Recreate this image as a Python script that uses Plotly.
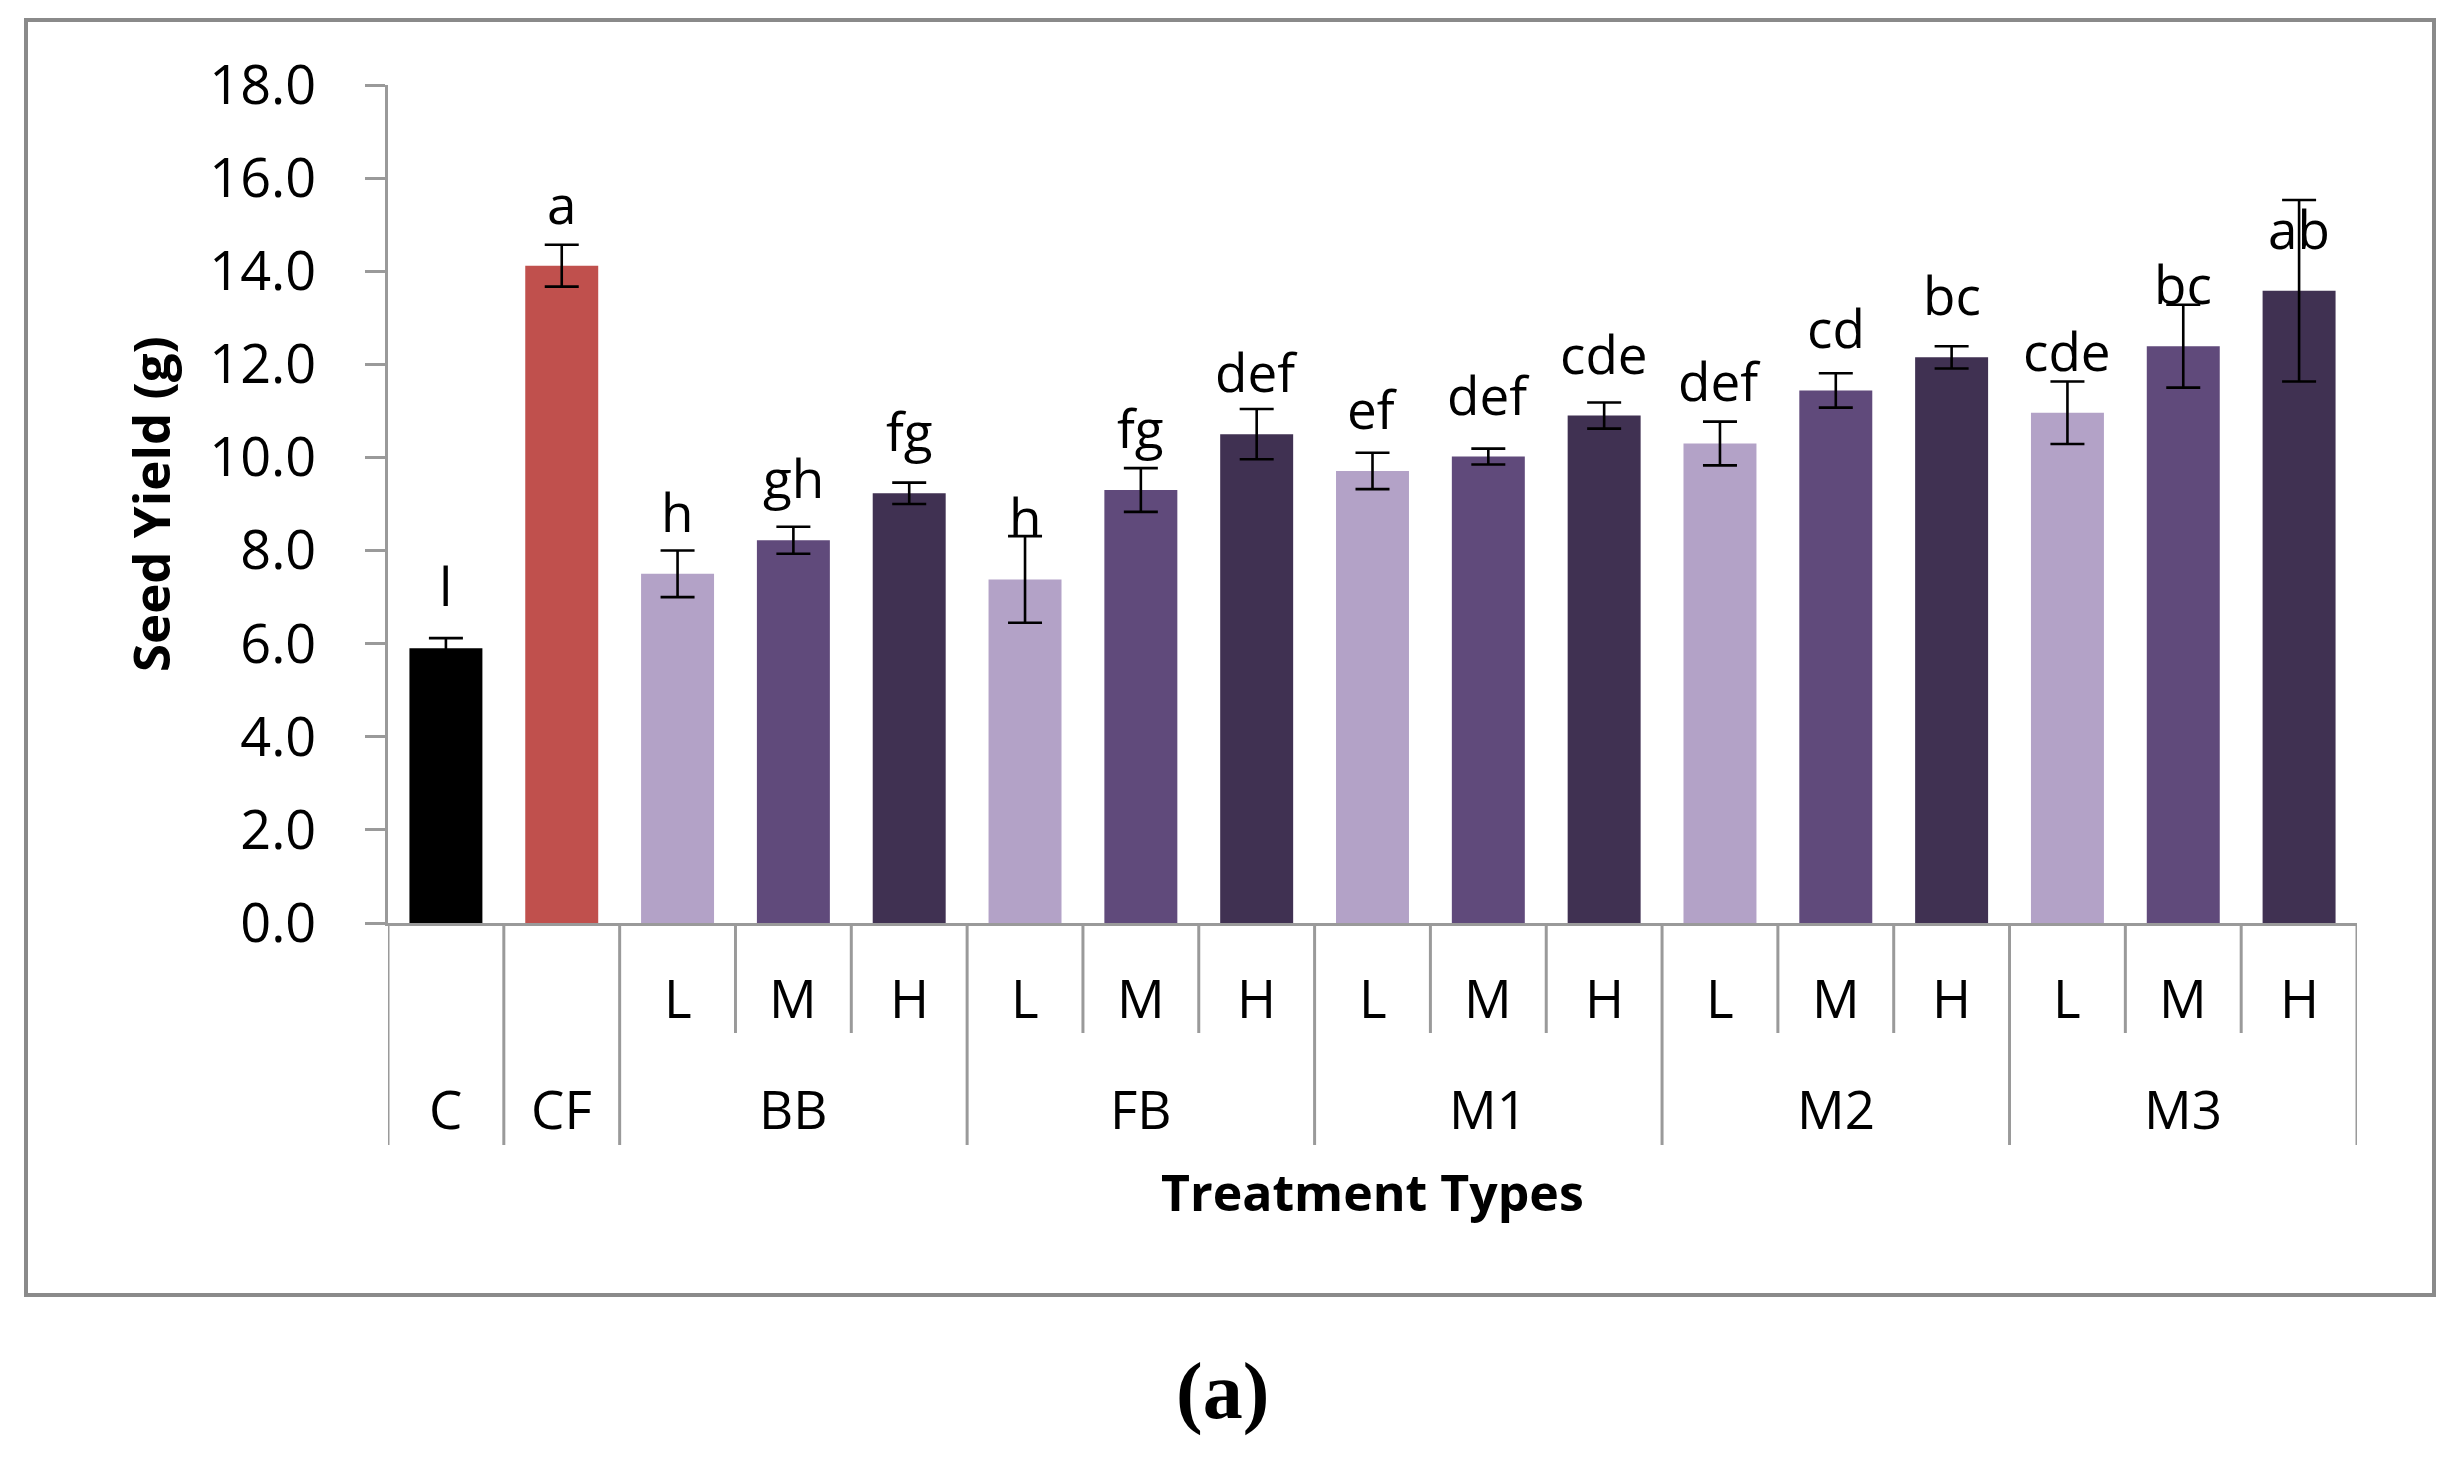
import plotly.graph_objects as go

# ---- data ----
groups = ["C", "CF", "BB", "BB", "BB", "FB", "FB", "FB", "M1", "M1", "M1",
          "M2", "M2", "M2", "M3", "M3", "M3"]
levels = ["", "", "L", "M", "H", "L", "M", "H", "L", "M", "H",
          "L", "M", "H", "L", "M", "H"]
values = [5.90, 14.12, 7.50, 8.22, 9.23, 7.38, 9.30, 10.50, 9.71, 10.02, 10.90,
          10.30, 11.44, 12.15, 10.96, 12.39, 13.58]
errors = [0.22, 0.45, 0.50, 0.29, 0.23, 0.93, 0.47, 0.54, 0.39, 0.17, 0.28,
          0.47, 0.37, 0.24, 0.67, 0.89, 1.95]
letters = ["l", "a", "h", "gh", "fg", "h", "fg", "def", "ef", "def", "cde",
           "def", "cd", "bc", "cde", "bc", "ab"]
y_ticks = [0, 2, 4, 6, 8, 10, 12, 14, 16, 18]

# ---- styling ----
W, H = 2453, 1458
ML, MR, MT, MB = 388, 96, 85, 535
PH = H - MT - MB
PW = W - ML - MR
FONT = "Open Sans, Liberation Sans, Arial, sans-serif"
LINE = "#9a9a9a"
level_colors = {"L": "#B3A2C7", "M": "#604A7B", "H": "#403152"}
special_colors = {"C": "#000000", "CF": "#C0504D"}


def py(ypix):
    """pixel row -> paper y"""
    return (MT + PH - ypix) / PH


def px(xpix):
    return (xpix - ML) / PW


keys = [f"{g} {l}".strip() for g, l in zip(groups, levels)]
colors = [level_colors[l] if l else special_colors[g] for g, l in zip(groups, levels)]

fig = go.Figure()
fig.add_trace(go.Bar(
    x=keys, y=values,
    marker=dict(color=colors, line=dict(width=0)),
    width=0.63,
    error_y=dict(type="data", array=errors, visible=True,
                 color="#000000", thickness=2.6, width=17),
    hoverinfo="x+y",
))

annotations = []
# significance letters above the bars
for k, v, t in zip(keys, values, letters):
    annotations.append(dict(x=k, y=v, xref="x", yref="y", text=t,
                            showarrow=False, yanchor="bottom", yshift=24,
                            font=dict(family=FONT, size=53, color="#000000")))
# sub-level labels
for i, l in enumerate(levels):
    if l:
        annotations.append(dict(x=i, y=py(997), xref="x", yref="paper", text=l,
                                showarrow=False, yanchor="middle",
                                font=dict(family=FONT, size=53, color="#000000")))
# group labels
seen = []
for g in groups:
    if g not in seen:
        seen.append(g)
for g in seen:
    idx = [i for i, gg in enumerate(groups) if gg == g]
    annotations.append(dict(x=sum(idx) / len(idx), y=py(1108), xref="x", yref="paper",
                            text=g, showarrow=False, yanchor="middle",
                            font=dict(family=FONT, size=53, color="#000000")))
# axis titles
annotations.append(dict(x=0.5, y=py(1192), xref="paper", yref="paper",
                        text="<b>Treatment Types</b>", showarrow=False, yanchor="middle",
                        font=dict(family=FONT, size=50, color="#000000")))
annotations.append(dict(x=px(150), y=py(504), xref="paper", yref="paper",
                        text="<b>Seed Yield (g)</b>", showarrow=False, textangle=-90,
                        xanchor="center", yanchor="middle",
                        font=dict(family=FONT, size=51, color="#000000")))
# caption
annotations.append(dict(x=px(1222), y=py(1391), xref="paper", yref="paper",
                        text="<b>(a)</b>", showarrow=False, yanchor="middle",
                        font=dict(family="Liberation Serif, Times New Roman, serif",
                                  size=80, color="#000000")))

shapes = []
# category dividers below the axis
n = len(keys)
for b in range(n + 1):
    if b == 0 or b == n or groups[b - 1] != groups[b]:
        ybot = py(1145)
    else:
        ybot = py(1033)
    shapes.append(dict(type="line", xref="x", yref="paper", x0=b - 0.5, x1=b - 0.5,
                       y0=0, y1=ybot, line=dict(color=LINE, width=3)))
# outer chart border
shapes.append(dict(type="rect", xref="paper", yref="paper",
                   x0=px(26), x1=px(2434), y0=py(1295), y1=py(20),
                   line=dict(color="#8a8a8a", width=4), fillcolor="rgba(0,0,0,0)",
                   layer="below"))

fig.update_layout(
    width=W, height=H,
    margin=dict(l=ML, r=MR, t=MT, b=MB, pad=0),
    paper_bgcolor="#ffffff", plot_bgcolor="#ffffff",
    showlegend=False,
    annotations=annotations,
    shapes=shapes,
    font=dict(family=FONT, color="#000000"),
)
fig.update_xaxes(
    type="category", range=[-0.5, n - 0.5],
    showticklabels=False, ticks="", showgrid=False, zeroline=False,
    showline=True, linecolor=LINE, linewidth=3,
)
fig.update_yaxes(
    range=[0, 18], tickvals=y_ticks, tickformat=".1f",
    ticks="outside", ticklen=20, tickwidth=3, tickcolor=LINE,
    showline=True, linecolor=LINE, linewidth=3,
    showgrid=False, zeroline=False,
    tickfont=dict(family=FONT, size=54, color="#000000"),
    ticklabelstandoff=38,
)

fig.write_html("out.html",
               config={"displayModeBar": False},
               post_script="document.body.style.margin='0';document.body.style.overflow='hidden';")
